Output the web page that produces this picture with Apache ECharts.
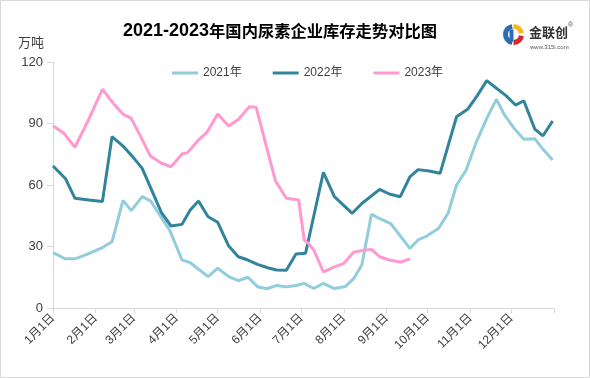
<!DOCTYPE html>
<html>
<head>
<meta charset="utf-8">
<script src="https://cdn.jsdelivr.net/npm/echarts@6/dist/echarts.min.js"></script>
<style>
html,body{margin:0;padding:0;background:#fff;}
#chart{width:590px;height:378px;}
</style>
</head>
<body>
<div id="chart"></div>
<script>
// ---- data ----
const seriesNames = ['2021年', '2022年', '2023年'];
const monthLabels = ['1月1日','2月1日','3月1日','4月1日','5月1日','6月1日','7月1日','8月1日','9月1日','10月1日','11月1日','12月1日'];
const yTicks = [0, 30, 60, 90, 120];

const dates2021 = ['01-01','01-10','01-17','01-27','02-06','02-13','02-21','02-27','03-07','03-13',
  '03-27','04-05','04-11','04-24','05-01','05-09','05-16','05-23','05-30','06-06',
  '06-13','06-20','06-27','07-03','07-10','07-17','07-25','08-02','08-08','08-14',
  '08-21','08-28','09-04','09-18','09-24','09-30','10-09','10-16','10-22','10-29',
  '11-05','11-13','11-20','11-26','12-03','12-10','12-18','12-24','12-31'];
const values2021 = [27.0,24.0,24.0,26.5,29.5,32.3,52.5,47.5,54.3,52.3,
  38,23.4,22.1,15.3,19.4,15.3,13.3,15,10.4,9.4,
  11,10.3,11,12,9.5,12,9.5,10.5,14.3,21,
  45.7,43.3,41.2,29.1,33.2,35,38.9,46.5,60,67.3,
  80.3,92.5,101.8,94.1,87.6,82.3,82.6,77.4,72.2];

const dates2022 = ['01-01','01-10','01-17','01-27','02-06','02-13','02-21','03-01','03-07','03-21',
  '03-28','04-05','04-11','04-17','04-24','05-01','05-09','05-16','05-23','05-30',
  '06-07','06-13','06-20','06-27','07-04','07-17','07-25','08-07','08-14','08-27',
  '09-03','09-11','09-18','09-24','10-02','10-10','10-22','10-30','11-06','11-13',
  '11-21','11-27','12-04','12-10','12-18','12-24','12-31'];
const values2022 = [69.3,63.2,53.5,52.7,51.9,83.6,79,73,68.1,46.5,
  40,40.8,47.8,52.2,44.5,41.8,30.2,25,23.4,21.3,
  19.5,18.5,18.4,26.3,26.7,66.2,54.3,46.2,51,57.9,
  55.6,54.3,64,67.5,66.8,65.7,93.3,96.9,103.5,110.9,
  106.7,103.6,99,101.1,87.3,84,91.2];

const dates2023 = ['01-01','01-09','01-17','01-27','02-06','02-14','02-21','02-27','03-06','03-13',
  '03-21','03-28','04-05','04-09','04-17','04-23','05-01','05-09','05-16','05-24',
  '05-29','06-12','06-20','06-29','07-03','07-06','07-10','07-17','07-25','08-01',
  '08-08','08-14','08-21','08-27','09-03','09-11','09-18'];
const values2023 = [88.9,85.2,78.4,92,106.7,99.8,94.6,92.5,83.5,74.1,
  70.6,68.9,75.1,75.8,82,85.5,94.6,88.8,92,98.2,
  97.9,62.1,53.5,52.7,33.2,31.6,28.3,17.6,20.1,21.8,
  27.2,28,28.6,25,23.4,22.4,23.9];

// ---- helpers ----
const monthStart = [0,31,59,90,120,151,181,212,243,273,304,334];
function dayOfYear(s) {
  const [m, d] = s.split('-').map(Number);
  return monthStart[m - 1] + d - 1;
}
function pairs(dates, vals) { return dates.map((d, i) => [dayOfYear(d), vals[i]]); }
const tickDays = monthStart.concat([365]);

const colors = ['#92CDDC', '#31849B', '#FF99D0'];
const chart = echarts.init(document.getElementById('chart'), null, {renderer: 'canvas'});
const txt = '#404040';
const font = 'Liberation Sans, Arial, Noto Sans CJK SC, sans-serif';

chart.setOption({
  animation: false,
  color: colors,
  title: {
    text: '{a|2021-2023}{b|年国内尿素企业库存走势对比图}',
    left: 275, top: 17, textAlign: 'center',
    textStyle: {
      rich: {
        a: {fontSize: 18, fontWeight: 'bold', color: '#000', fontFamily: 'Liberation Sans, Arial'},
        b: {fontSize: 16.3, fontWeight: 'bold', color: '#000', fontFamily: 'Noto Sans CJK SC'}
      }
    }
  },
  legend: {
    data: seriesNames,
    left: 167, top: 62,
    icon: 'rect', itemWidth: 26, itemHeight: 3, itemGap: 31,
    textStyle: {fontSize: 12, color: txt, fontFamily: font}
  },
  grid: {left: 53, right: 36, top: 62, bottom: 70},
  xAxis: {
    type: 'value', min: 0, max: 365,
    axisLine: {show: true, lineStyle: {color: '#D9D9D9', width: 1}},
    axisTick: {show: true, length: 5, lineStyle: {color: '#D9D9D9'}, customValues: tickDays},
    axisLabel: {
      customValues: monthStart, rotate: 45, margin: 8,
      fontSize: 12, color: txt, fontFamily: font,
      formatter: v => monthLabels[monthStart.indexOf(v)]
    },
    splitLine: {show: false}
  },
  yAxis: {
    type: 'value', min: yTicks[0], max: yTicks[yTicks.length - 1], interval: 30,
    axisLine: {show: true, lineStyle: {color: '#D9D9D9', width: 1}},
    axisTick: {show: true, length: 6, lineStyle: {color: '#D9D9D9'}},
    axisLabel: {fontSize: 13, color: txt, fontFamily: font, margin: 10},
    splitLine: {show: false}
  },
  graphic: [
    {type: 'rect', shape: {x: 0.5, y: 0.5, width: 589, height: 377}, style: {fill: 'none', stroke: '#D9D9D9', lineWidth: 1}, silent: true},
    {type: 'text', left: 18, top: 36, style: {text: '万吨', fontSize: 13, fill: txt, fontFamily: 'Noto Sans CJK SC'}},
    // logo icon
    {type: 'group', left: 503, top: 24, children: [
      {type: 'arc', shape: {cx: 9, cy: 13, r: 8, startAngle: Math.PI * 0.55, endAngle: Math.PI * 1.45}, style: {stroke: '#2E6DB4', lineWidth: 5, fill: 'none'}},
      {type: 'arc', shape: {cx: 9, cy: 13, r: 8, startAngle: Math.PI * 1.5, endAngle: Math.PI * 1.95}, style: {stroke: '#F5B91E', lineWidth: 5, fill: 'none'}},
      {type: 'arc', shape: {cx: 9, cy: 13, r: 8, startAngle: Math.PI * 0.05, endAngle: Math.PI * 0.5}, style: {stroke: '#D7282F', lineWidth: 5, fill: 'none'}},
      {type: 'rect', shape: {x: 5, y: 8, width: 4, height: 12}, style: {fill: '#2E6DB4'}}
    ]},
    {type: 'text', left: 529, top: 26, style: {text: '金联创', fontSize: 13, fontWeight: 'bold', fill: '#333', fontFamily: 'Noto Sans CJK SC'}},
    {type: 'text', left: 568, top: 22, style: {text: '®', fontSize: 7, fill: '#555', fontFamily: font}},
    {type: 'text', left: 530, top: 44, style: {text: 'www.315i.com', fontSize: 6, fill: '#555', fontFamily: font}}
  ],
  series: [
    {name: seriesNames[0], type: 'line', data: pairs(dates2021, values2021), symbol: 'none', lineStyle: {width: 3, color: colors[0]}, z: 2},
    {name: seriesNames[1], type: 'line', data: pairs(dates2022, values2022), symbol: 'none', lineStyle: {width: 3, color: colors[1]}, z: 3},
    {name: seriesNames[2], type: 'line', data: pairs(dates2023, values2023), symbol: 'none', lineStyle: {width: 3, color: colors[2]}, z: 4}
  ]
});
</script>
</body>
</html>
